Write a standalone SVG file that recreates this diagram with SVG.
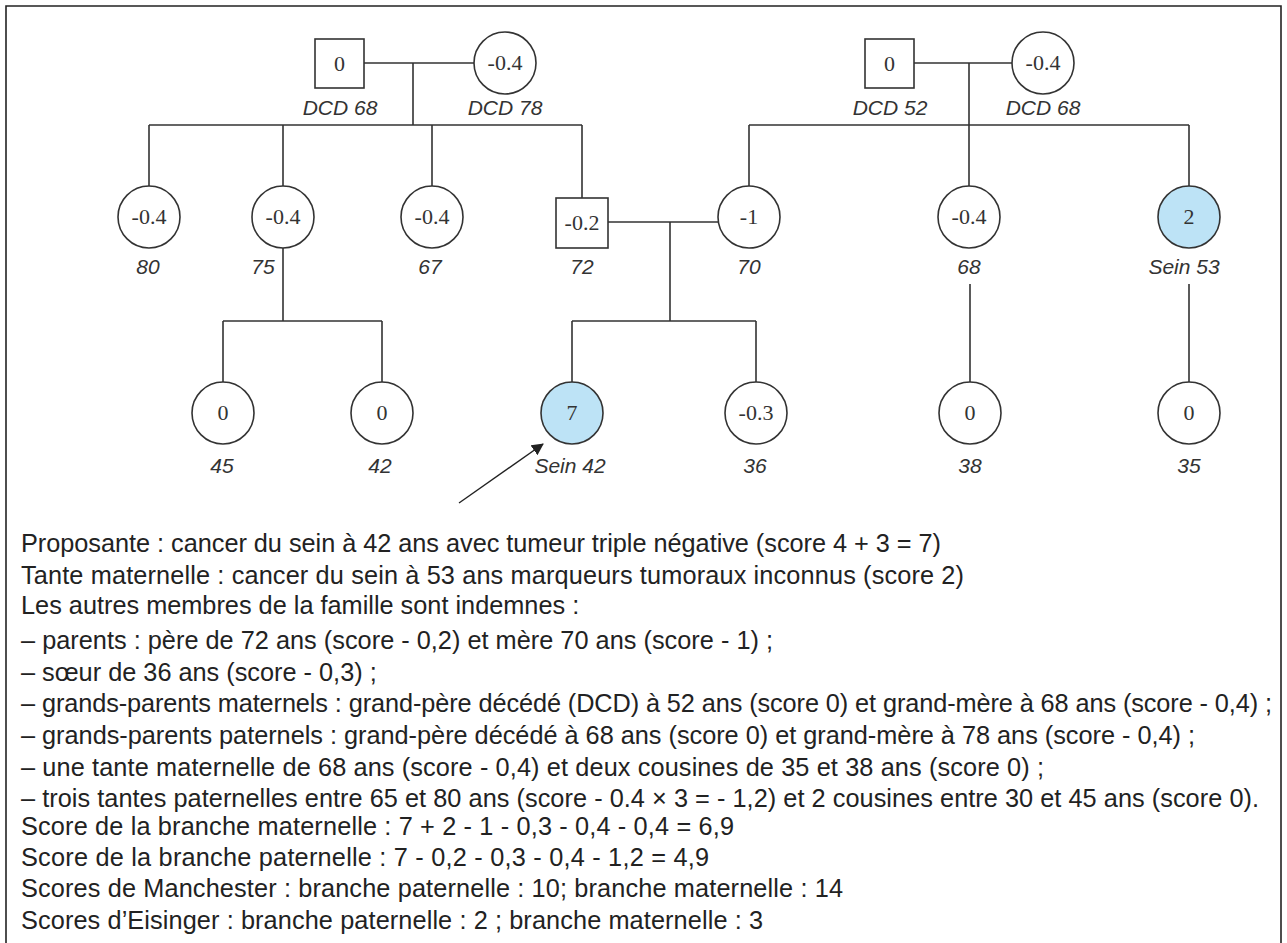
<svg xmlns="http://www.w3.org/2000/svg" width="1287" height="943" viewBox="0 0 1287 943">
<style>
.ln{stroke:#333;stroke-width:1.6;fill:none}
.nd{stroke:#333;stroke-width:1.6;fill:#fff}
.af{fill:#bde3f6}
.num{font-family:"Liberation Serif","Times New Roman",serif;font-size:22px;fill:#333;text-anchor:middle}
.lab{font-family:"Liberation Sans",Arial,sans-serif;font-style:italic;font-size:21px;fill:#333;text-anchor:middle}
.body{font-family:"Liberation Sans",Arial,sans-serif;font-size:25.3px;fill:#222}
</style>
<defs>
<marker id="ah" markerWidth="12" markerHeight="12" refX="11" refY="6" orient="auto" markerUnits="userSpaceOnUse">
<path d="M0,0 L12,6 L0,12 z" fill="#222"/>
</marker>
</defs>
<rect x="0" y="0" width="1287" height="943" fill="#fff"/>
<path d="M6,943 V6 H1281 V943" fill="none" stroke="#222" stroke-width="1.6"/>

<g id="connectors">
<path class="ln" d="M364,63 H474 M413,63 V125 M149,125 H582 M149,125 V186 M283,125 V186 M432,125 V186 M582,125 V198"/>
<path class="ln" d="M608,222 H718 M670,222 V321 M572,321 H756 M572,321 V382 M756,321 V382"/>
<path class="ln" d="M283,248 V321 M223,321 H382 M223,321 V382 M382,321 V382"/>
<path class="ln" d="M914,63 H1012 M969,63 V186 M749,125 H1189 M749,125 V186 M1189,125 V186"/>
<path class="ln" d="M970,284 V382 M1189,284 V382"/>
<line x1="459" y1="503" x2="543" y2="444" stroke="#222" stroke-width="1.4" marker-end="url(#ah)"/>
</g>

<g id="gp-pat-father"><rect class="nd" x="315" y="39" width="49" height="49"/><text class="num" x="339.5" y="71">0</text><text class="lab" x="340" y="115">DCD 68</text></g>
<g id="gp-pat-mother"><circle class="nd" cx="505" cy="63" r="31"/><text class="num" x="505" y="70">-0.4</text><text class="lab" x="505" y="115">DCD 78</text></g>
<g id="gp-mat-father"><rect class="nd" x="865" y="39" width="49" height="49"/><text class="num" x="889.5" y="71">0</text><text class="lab" x="890" y="115">DCD 52</text></g>
<g id="gp-mat-mother"><circle class="nd" cx="1043" cy="63" r="31"/><text class="num" x="1043" y="70">-0.4</text><text class="lab" x="1043" y="115">DCD 68</text></g>

<g id="aunt-80"><circle class="nd" cx="149" cy="217" r="31"/><text class="num" x="149" y="224">-0.4</text><text class="lab" x="148" y="274">80</text></g>
<g id="aunt-75"><circle class="nd" cx="283" cy="217" r="31"/><text class="num" x="283" y="224">-0.4</text><text class="lab" x="263" y="274">75</text></g>
<g id="aunt-67"><circle class="nd" cx="432" cy="217" r="31"/><text class="num" x="432" y="224">-0.4</text><text class="lab" x="430" y="274">67</text></g>
<g id="father"><rect class="nd" x="556" y="198" width="52" height="50"/><text class="num" x="582" y="230">-0.2</text><text class="lab" x="582" y="274">72</text></g>
<g id="mother"><circle class="nd" cx="749" cy="217" r="31"/><text class="num" x="749" y="224">-1</text><text class="lab" x="749" y="274">70</text></g>
<g id="aunt-68"><circle class="nd" cx="969" cy="217" r="31"/><text class="num" x="969" y="224">-0.4</text><text class="lab" x="969" y="274">68</text></g>
<g id="aunt-53"><circle class="nd af" cx="1189" cy="217" r="31"/><text class="num" x="1189" y="224">2</text><text class="lab" x="1184" y="274">Sein 53</text></g>

<g id="cousin-45"><circle class="nd" cx="223" cy="413" r="31"/><text class="num" x="223" y="420">0</text><text class="lab" x="222" y="473">45</text></g>
<g id="cousin-42"><circle class="nd" cx="382" cy="413" r="31"/><text class="num" x="382" y="420">0</text><text class="lab" x="380" y="473">42</text></g>
<g id="proband"><circle class="nd af" cx="572" cy="413" r="31"/><text class="num" x="572" y="420">7</text><text class="lab" x="570" y="473">Sein 42</text></g>
<g id="sister"><circle class="nd" cx="756" cy="413" r="31"/><text class="num" x="756" y="420">-0.3</text><text class="lab" x="755" y="473">36</text></g>
<g id="cousin-38"><circle class="nd" cx="970" cy="413" r="31"/><text class="num" x="970" y="420">0</text><text class="lab" x="970" y="473">38</text></g>
<g id="cousin-35"><circle class="nd" cx="1189" cy="413" r="31"/><text class="num" x="1189" y="420">0</text><text class="lab" x="1189" y="473">35</text></g>

<g id="legend" class="body">
<text x="21" y="552" textLength="920" lengthAdjust="spacing">Proposante : cancer du sein à 42 ans avec tumeur triple négative (score 4 + 3 = 7)</text>
<text x="21" y="584" textLength="943" lengthAdjust="spacing">Tante maternelle : cancer du sein à 53 ans marqueurs tumoraux inconnus (score 2)</text>
<text x="21" y="614">Les autres membres de la famille sont indemnes :</text>
<text x="21" y="649" textLength="752" lengthAdjust="spacing">–  parents : père de 72 ans (score - 0,2) et mère 70 ans (score - 1) ;</text>
<text x="21" y="681">–  sœur de 36 ans (score - 0,3) ;</text>
<text x="21" y="712" textLength="1251" lengthAdjust="spacing">–  grands-parents maternels : grand-père décédé (DCD) à 52 ans (score 0) et grand-mère à 68 ans (score - 0,4) ;</text>
<text x="21" y="744" textLength="1174" lengthAdjust="spacing">–  grands-parents paternels : grand-père décédé à 68 ans (score 0) et grand-mère à 78 ans (score - 0,4) ;</text>
<text x="21" y="776" textLength="1023" lengthAdjust="spacing">–  une tante maternelle de 68 ans (score - 0,4) et deux cousines de 35 et 38 ans (score 0) ;</text>
<text x="21" y="807" textLength="1238" lengthAdjust="spacing">–  trois tantes paternelles entre 65 et 80 ans (score - 0.4 × 3 = - 1,2) et 2 cousines entre 30 et 45 ans (score 0).</text>
<text x="21" y="835" textLength="713" lengthAdjust="spacing">Score de la branche maternelle : 7 + 2 - 1 - 0,3 - 0,4 - 0,4 = 6,9</text>
<text x="21" y="866" textLength="688" lengthAdjust="spacing">Score de la branche paternelle : 7 - 0,2 - 0,3 - 0,4 - 1,2 = 4,9</text>
<text x="21" y="897" textLength="822" lengthAdjust="spacing">Scores de Manchester : branche paternelle : 10; branche maternelle : 14</text>
<text x="21" y="929" textLength="742" lengthAdjust="spacing">Scores d’Eisinger : branche paternelle : 2 ; branche maternelle : 3</text>
</g>
</svg>
